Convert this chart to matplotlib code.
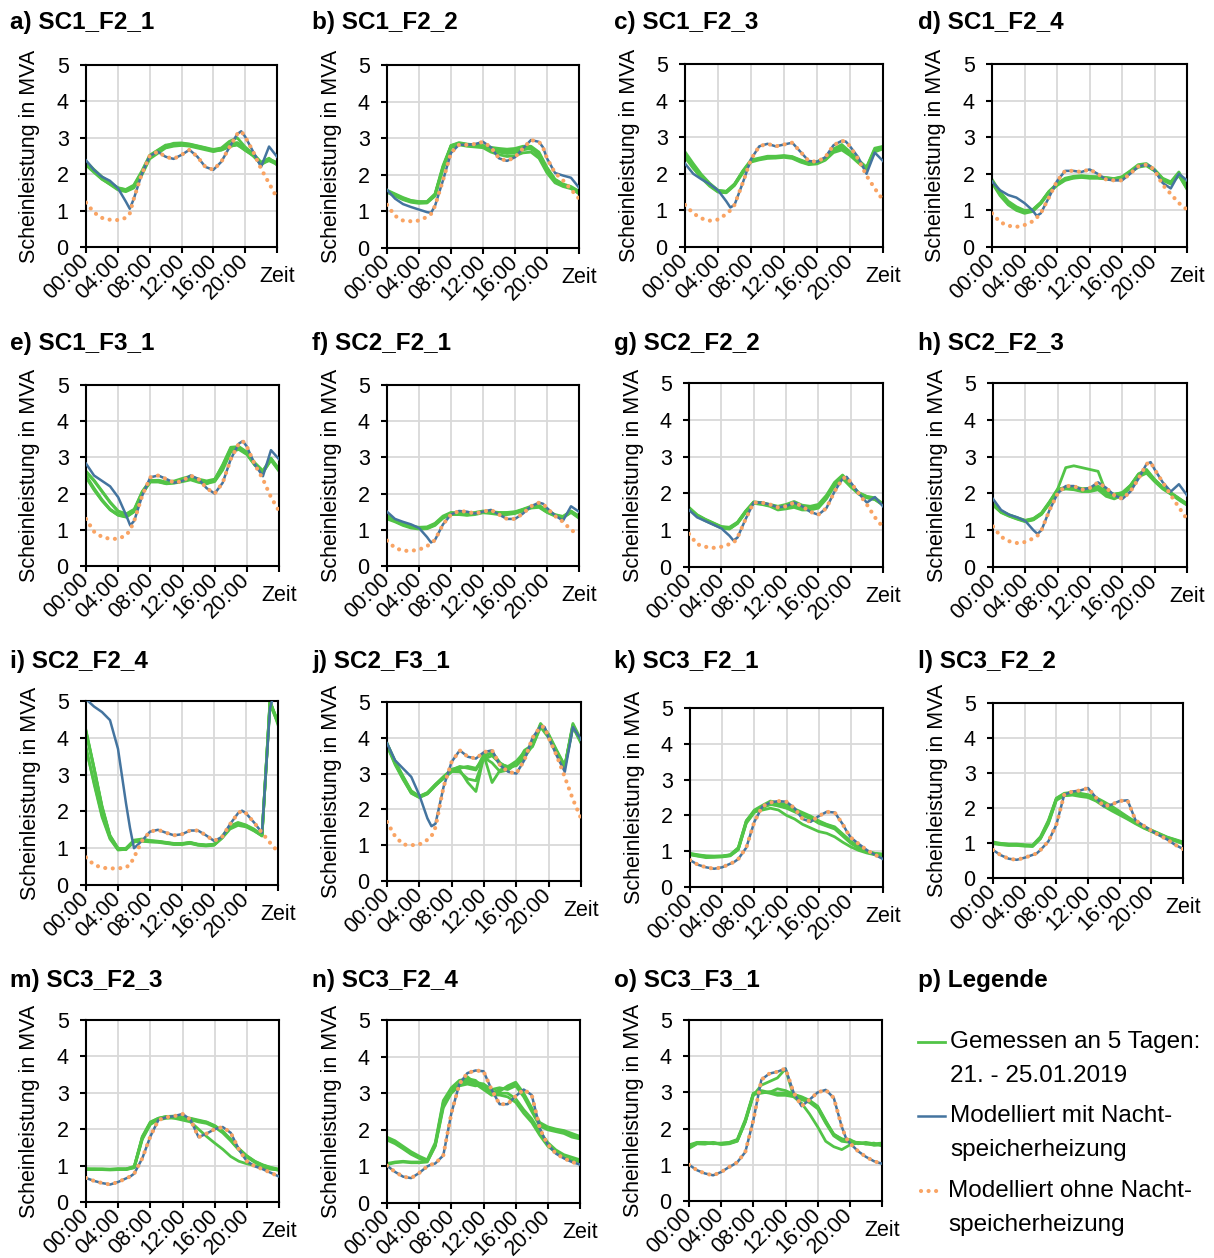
import matplotlib
matplotlib.use("Agg")
import matplotlib.pyplot as plt
from matplotlib.lines import Line2D
from matplotlib.transforms import offset_copy

plt.rcParams['font.family'] = ['Liberation Sans', 'DejaVu Sans']

# ---------------------------------------------------------------- data
HOURS = list(range(25))
MODEL_HOURS = [0, 1, 2, 3, 4, 5, 5.5, 6, 7, 8, 9, 10, 11, 12, 13, 14, 15, 16,
               17, 18, 19, 19.5, 20, 21, 22, 23, 24]
TICK_HOURS = [0, 4, 8, 12, 16, 20, 24]
TICK_LABELS = ["00:00", "04:00", "08:00", "12:00", "16:00", "20:00", ""]

PANEL_KEYS = list("abcdefghijklmno")
TITLES = ["a) SC1_F2_1", "b) SC1_F2_2", "c) SC1_F2_3", "d) SC1_F2_4",
          "e) SC1_F3_1", "f) SC2_F2_1", "g) SC2_F2_2", "h) SC2_F2_3",
          "i) SC2_F2_4", "j) SC2_F3_1", "k) SC3_F2_1", "l) SC3_F2_2",
          "m) SC3_F2_3", "n) SC3_F2_4", "o) SC3_F3_1"]

# measured apparent power, five days per feeder (MVA, hourly)
MEAS_A = [
    [2.30, 2.10, 1.90, 1.75, 1.60, 1.55, 1.65, 2.00, 2.45, 2.60, 2.75, 2.80, 2.82, 2.80, 2.75, 2.70, 2.65, 2.70, 2.80, 2.85, 2.70, 2.55, 2.30, 2.40, 2.30],
    [2.35, 2.13, 1.93, 1.78, 1.62, 1.57, 1.68, 2.05, 2.50, 2.65, 2.78, 2.85, 2.86, 2.83, 2.78, 2.73, 2.68, 2.72, 2.90, 3.00, 2.75, 2.55, 2.25, 2.42, 2.32],
    [2.27, 2.07, 1.87, 1.72, 1.57, 1.52, 1.62, 1.97, 2.42, 2.57, 2.72, 2.77, 2.79, 2.77, 2.72, 2.67, 2.62, 2.67, 2.77, 2.80, 2.67, 2.50, 2.28, 2.37, 2.27],
    [2.25, 2.05, 1.86, 1.73, 1.60, 1.55, 1.66, 2.02, 2.47, 2.62, 2.74, 2.79, 2.81, 2.79, 2.74, 2.70, 2.66, 2.70, 2.83, 2.87, 2.72, 2.57, 2.33, 2.44, 2.25],
    [2.32, 2.11, 1.91, 1.76, 1.63, 1.58, 1.70, 2.08, 2.52, 2.66, 2.80, 2.82, 2.84, 2.82, 2.77, 2.72, 2.64, 2.66, 2.75, 2.82, 2.65, 2.52, 2.30, 2.40, 2.30],
]
MEAS_B = [
    [1.55, 1.45, 1.35, 1.28, 1.25, 1.25, 1.45, 2.20, 2.78, 2.85, 2.82, 2.80, 2.78, 2.72, 2.68, 2.62, 2.62, 2.70, 2.72, 2.55, 2.15, 1.85, 1.72, 1.65, 1.52],
    [1.58, 1.48, 1.38, 1.30, 1.27, 1.27, 1.48, 2.25, 2.80, 2.88, 2.84, 2.82, 2.80, 2.75, 2.72, 2.70, 2.72, 2.78, 2.78, 2.62, 2.20, 1.88, 1.75, 1.68, 1.55],
    [1.52, 1.42, 1.32, 1.25, 1.22, 1.23, 1.42, 2.15, 2.74, 2.82, 2.78, 2.76, 2.74, 2.62, 2.55, 2.50, 2.52, 2.60, 2.62, 2.45, 2.05, 1.78, 1.68, 1.62, 1.50],
    [1.55, 1.44, 1.34, 1.27, 1.24, 1.26, 1.46, 2.22, 2.76, 2.84, 2.80, 2.79, 2.76, 2.68, 2.62, 2.58, 2.60, 2.68, 2.74, 2.50, 2.10, 1.82, 1.70, 1.64, 1.48],
    [1.56, 1.46, 1.36, 1.29, 1.26, 1.24, 1.44, 2.18, 2.80, 2.86, 2.83, 2.81, 2.79, 2.73, 2.70, 2.65, 2.66, 2.72, 2.70, 2.58, 2.18, 1.86, 1.73, 1.66, 1.53],
]
MEAS_C = [
    [2.50, 2.20, 1.92, 1.70, 1.52, 1.50, 1.70, 2.05, 2.35, 2.40, 2.45, 2.45, 2.48, 2.45, 2.35, 2.28, 2.30, 2.40, 2.62, 2.72, 2.55, 2.35, 2.15, 2.65, 2.72],
    [2.60, 2.28, 1.98, 1.74, 1.55, 1.52, 1.72, 2.08, 2.38, 2.43, 2.48, 2.48, 2.50, 2.47, 2.38, 2.30, 2.33, 2.43, 2.68, 2.80, 2.60, 2.38, 2.18, 2.70, 2.75],
    [2.45, 2.15, 1.88, 1.66, 1.50, 1.48, 1.68, 2.02, 2.32, 2.38, 2.42, 2.43, 2.45, 2.42, 2.32, 2.25, 2.27, 2.37, 2.58, 2.65, 2.50, 2.30, 2.12, 2.60, 2.68],
    [2.48, 2.18, 1.90, 1.68, 1.52, 1.50, 1.70, 2.05, 2.35, 2.40, 2.45, 2.46, 2.47, 2.44, 2.34, 2.27, 2.30, 2.40, 2.64, 2.75, 2.56, 2.36, 2.16, 2.66, 2.70],
    [2.52, 2.22, 1.94, 1.72, 1.54, 1.52, 1.72, 2.06, 2.36, 2.41, 2.46, 2.44, 2.47, 2.46, 2.36, 2.29, 2.31, 2.41, 2.60, 2.70, 2.53, 2.33, 2.14, 2.63, 2.74],
]
MEAS_D = [
    [1.80, 1.45, 1.20, 1.05, 0.95, 1.00, 1.20, 1.50, 1.70, 1.85, 1.90, 1.92, 1.90, 1.90, 1.88, 1.85, 1.90, 2.05, 2.20, 2.25, 2.10, 1.85, 1.75, 2.00, 1.60],
    [1.85, 1.50, 1.25, 1.10, 1.00, 1.02, 1.22, 1.52, 1.73, 1.88, 1.93, 1.95, 1.93, 1.92, 1.90, 1.87, 1.92, 2.08, 2.25, 2.28, 2.12, 1.88, 1.78, 2.05, 1.65],
    [1.75, 1.40, 1.15, 1.00, 0.92, 0.97, 1.18, 1.48, 1.68, 1.82, 1.88, 1.90, 1.88, 1.88, 1.86, 1.83, 1.88, 2.03, 2.18, 2.22, 2.08, 1.82, 1.72, 1.95, 1.58],
    [1.78, 1.48, 1.22, 1.08, 0.97, 0.98, 1.20, 1.50, 1.72, 1.86, 1.91, 1.93, 1.91, 1.91, 1.89, 1.86, 1.91, 2.06, 2.22, 2.26, 2.10, 1.86, 1.76, 2.02, 1.62],
    [1.82, 1.43, 1.18, 1.03, 0.94, 1.01, 1.21, 1.51, 1.70, 1.84, 1.89, 1.91, 1.89, 1.89, 1.87, 1.84, 1.89, 2.04, 2.19, 2.24, 2.09, 1.84, 1.74, 1.98, 1.60],
]
MEAS_E = [
    [2.60, 2.35, 2.05, 1.75, 1.50, 1.42, 1.55, 2.05, 2.35, 2.35, 2.30, 2.32, 2.38, 2.42, 2.35, 2.30, 2.35, 2.70, 3.20, 3.25, 3.10, 2.80, 2.60, 2.95, 2.65],
    [2.45, 2.10, 1.80, 1.55, 1.40, 1.35, 1.50, 2.00, 2.33, 2.33, 2.28, 2.30, 2.35, 2.40, 2.33, 2.28, 2.33, 2.65, 3.15, 3.22, 3.08, 2.78, 2.58, 2.92, 2.62],
    [2.50, 2.15, 1.83, 1.57, 1.42, 1.37, 1.52, 2.02, 2.36, 2.37, 2.32, 2.35, 2.42, 2.48, 2.40, 2.35, 2.40, 2.78, 3.25, 3.28, 3.12, 2.82, 2.62, 2.98, 2.68],
    [2.47, 2.12, 1.81, 1.56, 1.41, 1.36, 1.51, 2.01, 2.32, 2.32, 2.27, 2.29, 2.33, 2.38, 2.31, 2.27, 2.38, 2.80, 3.28, 3.30, 3.15, 2.85, 2.63, 2.97, 2.66],
    [2.62, 2.37, 2.07, 1.77, 1.52, 1.44, 1.57, 2.06, 2.37, 2.36, 2.31, 2.33, 2.39, 2.45, 2.37, 2.32, 2.36, 2.72, 3.22, 3.26, 3.10, 2.80, 2.60, 2.94, 2.64],
]
MEAS_F = [
    [1.35, 1.25, 1.15, 1.08, 1.05, 1.05, 1.15, 1.35, 1.45, 1.45, 1.42, 1.45, 1.50, 1.48, 1.45, 1.45, 1.48, 1.55, 1.62, 1.65, 1.50, 1.40, 1.35, 1.50, 1.35],
    [1.40, 1.28, 1.18, 1.10, 1.07, 1.08, 1.18, 1.38, 1.48, 1.47, 1.45, 1.48, 1.52, 1.50, 1.48, 1.48, 1.50, 1.57, 1.65, 1.68, 1.53, 1.42, 1.37, 1.52, 1.38],
    [1.30, 1.22, 1.12, 1.05, 1.02, 1.03, 1.12, 1.32, 1.42, 1.42, 1.40, 1.42, 1.47, 1.45, 1.42, 1.42, 1.45, 1.52, 1.60, 1.62, 1.48, 1.38, 1.33, 1.48, 1.32],
    [1.33, 1.24, 1.14, 1.07, 1.04, 1.06, 1.16, 1.36, 1.44, 1.46, 1.43, 1.46, 1.49, 1.47, 1.46, 1.44, 1.47, 1.56, 1.63, 1.66, 1.51, 1.41, 1.34, 1.49, 1.34],
    [1.37, 1.26, 1.16, 1.09, 1.06, 1.04, 1.14, 1.34, 1.46, 1.44, 1.41, 1.44, 1.51, 1.49, 1.44, 1.46, 1.49, 1.54, 1.61, 1.64, 1.49, 1.39, 1.36, 1.51, 1.36],
]
MEAS_G = [
    [1.60, 1.40, 1.28, 1.18, 1.08, 1.05, 1.20, 1.50, 1.75, 1.72, 1.68, 1.62, 1.65, 1.70, 1.62, 1.60, 1.65, 1.90, 2.25, 2.45, 2.20, 2.00, 1.90, 1.85, 1.70],
    [1.62, 1.42, 1.30, 1.20, 1.10, 1.08, 1.22, 1.52, 1.77, 1.75, 1.70, 1.65, 1.70, 1.78, 1.68, 1.65, 1.70, 1.95, 2.30, 2.50, 2.25, 2.02, 1.92, 1.88, 1.72],
    [1.58, 1.38, 1.26, 1.16, 1.06, 1.03, 1.18, 1.48, 1.73, 1.70, 1.65, 1.55, 1.58, 1.62, 1.55, 1.55, 1.60, 1.85, 2.20, 2.40, 2.18, 1.98, 1.88, 1.83, 1.68],
    [1.60, 1.41, 1.29, 1.19, 1.09, 1.06, 1.21, 1.51, 1.76, 1.73, 1.69, 1.63, 1.67, 1.73, 1.65, 1.62, 1.67, 1.92, 2.27, 2.47, 2.22, 2.01, 1.91, 1.86, 1.71],
    [1.61, 1.39, 1.27, 1.17, 1.07, 1.04, 1.19, 1.49, 1.74, 1.71, 1.67, 1.60, 1.62, 1.66, 1.60, 1.58, 1.63, 1.88, 2.23, 2.43, 2.19, 1.99, 1.89, 1.84, 1.69],
]
MEAS_H = [
    [1.70, 1.50, 1.40, 1.32, 1.25, 1.30, 1.45, 1.75, 2.10, 2.15, 2.15, 2.10, 2.10, 2.15, 2.00, 1.95, 2.00, 2.20, 2.50, 2.60, 2.35, 2.15, 2.00, 1.85, 1.70],
    [1.72, 1.52, 1.42, 1.34, 1.27, 1.32, 1.47, 1.78, 2.12, 2.70, 2.75, 2.70, 2.65, 2.60, 2.02, 1.98, 2.02, 2.22, 2.52, 2.62, 2.37, 2.17, 2.02, 1.87, 1.72],
    [1.68, 1.48, 1.38, 1.30, 1.23, 1.28, 1.43, 1.73, 2.08, 2.12, 2.10, 2.05, 2.05, 2.10, 1.92, 1.85, 1.95, 2.15, 2.45, 2.55, 2.32, 2.12, 1.98, 1.82, 1.68],
    [1.71, 1.51, 1.41, 1.33, 1.26, 1.31, 1.46, 1.76, 2.11, 2.17, 2.18, 2.13, 2.14, 2.20, 2.05, 1.97, 2.02, 2.21, 2.53, 2.65, 2.38, 2.16, 2.01, 1.86, 1.71],
    [1.69, 1.49, 1.39, 1.31, 1.24, 1.29, 1.44, 1.74, 2.09, 2.14, 2.13, 2.08, 2.08, 2.12, 1.97, 1.93, 1.98, 2.18, 2.48, 2.58, 2.34, 2.14, 1.99, 1.84, 1.69],
]
MEAS_I = [
    [4.20, 3.20, 2.15, 1.35, 1.00, 0.98, 1.20, 1.22, 1.20, 1.18, 1.15, 1.12, 1.12, 1.15, 1.10, 1.08, 1.10, 1.30, 1.55, 1.65, 1.60, 1.50, 1.35, 5.00, 4.40],
    [4.15, 3.15, 2.10, 1.32, 0.98, 0.96, 1.18, 1.20, 1.18, 1.17, 1.14, 1.11, 1.11, 1.14, 1.09, 1.07, 1.09, 1.28, 1.58, 1.68, 1.62, 1.48, 1.33, 4.95, 4.45],
    [3.70, 2.80, 1.90, 1.28, 0.97, 1.00, 1.22, 1.25, 1.21, 1.19, 1.16, 1.13, 1.13, 1.16, 1.11, 1.09, 1.11, 1.32, 1.60, 1.70, 1.63, 1.52, 1.36, 4.90, 4.40],
    [3.75, 2.75, 1.85, 1.25, 0.95, 0.97, 1.17, 1.19, 1.17, 1.16, 1.13, 1.10, 1.10, 1.13, 1.08, 1.06, 1.08, 1.27, 1.52, 1.62, 1.58, 1.47, 1.34, 5.00, 4.35],
    [4.18, 3.18, 2.12, 1.33, 0.99, 0.99, 1.19, 1.21, 1.19, 1.18, 1.15, 1.12, 1.12, 1.15, 1.10, 1.08, 1.10, 1.29, 1.56, 1.66, 1.61, 1.49, 1.35, 4.98, 4.42],
]
MEAS_J = [
    [3.85, 3.33, 2.90, 2.50, 2.35, 2.45, 2.68, 2.86, 3.05, 3.15, 3.20, 3.15, 3.45, 3.60, 3.30, 3.15, 3.25, 3.65, 3.80, 4.35, 4.05, 3.60, 3.20, 4.35, 3.90],
    [3.80, 3.28, 2.85, 2.45, 2.33, 2.43, 2.66, 2.88, 3.10, 3.20, 3.15, 3.10, 3.55, 3.55, 3.25, 3.20, 3.30, 3.55, 3.85, 4.40, 4.10, 3.65, 3.22, 4.40, 3.95],
    [3.82, 3.30, 2.88, 2.48, 2.36, 2.46, 2.70, 2.90, 3.08, 3.10, 2.75, 2.50, 3.50, 2.75, 3.10, 3.20, 3.35, 3.60, 3.75, 4.30, 4.00, 3.55, 3.18, 4.30, 3.85],
    [3.78, 3.25, 2.83, 2.46, 2.34, 2.44, 2.67, 2.88, 3.06, 3.05, 2.85, 2.80, 3.45, 3.30, 3.05, 3.10, 3.28, 3.50, 3.80, 4.38, 4.08, 3.58, 3.20, 4.32, 3.88],
    [3.84, 3.35, 2.92, 2.52, 2.37, 2.47, 2.70, 2.92, 3.12, 3.18, 3.18, 3.12, 3.40, 3.50, 3.28, 3.18, 3.22, 3.45, 3.78, 4.32, 4.05, 3.62, 3.21, 4.36, 3.92],
]
MEAS_K = [
    [0.92, 0.88, 0.85, 0.85, 0.85, 0.88, 1.05, 1.80, 2.10, 2.20, 2.35, 2.30, 2.25, 2.15, 2.05, 1.95, 1.80, 1.72, 1.65, 1.45, 1.25, 1.10, 0.98, 0.92, 0.90],
    [0.94, 0.90, 0.87, 0.86, 0.87, 0.90, 1.08, 1.85, 2.15, 2.28, 2.40, 2.35, 2.30, 2.18, 2.08, 1.98, 1.85, 1.75, 1.68, 1.48, 1.28, 1.12, 1.00, 0.94, 0.92],
    [0.90, 0.86, 0.82, 0.83, 0.85, 0.90, 1.10, 1.85, 2.10, 2.15, 2.20, 2.15, 2.00, 1.90, 1.75, 1.65, 1.55, 1.50, 1.40, 1.25, 1.12, 1.02, 0.95, 0.90, 0.88],
    [0.91, 0.87, 0.84, 0.84, 0.84, 0.87, 1.04, 1.78, 2.08, 2.22, 2.30, 2.28, 2.22, 2.12, 2.02, 1.92, 1.78, 1.70, 1.62, 1.42, 1.22, 1.08, 0.97, 0.91, 0.89],
    [0.93, 0.89, 0.86, 0.86, 0.86, 0.89, 1.06, 1.82, 2.12, 2.25, 2.32, 2.26, 2.20, 2.10, 2.00, 1.90, 1.82, 1.74, 1.66, 1.46, 1.26, 1.11, 0.99, 0.93, 0.91],
]
MEAS_L = [
    [1.00, 0.97, 0.95, 0.95, 0.93, 0.92, 1.15, 1.60, 2.25, 2.38, 2.40, 2.38, 2.35, 2.25, 2.12, 2.00, 1.85, 1.72, 1.58, 1.45, 1.35, 1.25, 1.15, 1.08, 1.00],
    [1.03, 0.99, 0.97, 0.97, 0.95, 0.94, 1.18, 1.65, 2.28, 2.42, 2.45, 2.42, 2.38, 2.30, 2.18, 2.05, 1.90, 1.75, 1.60, 1.47, 1.37, 1.27, 1.17, 1.10, 1.03],
    [0.98, 0.95, 0.93, 0.93, 0.91, 0.90, 1.12, 1.55, 2.22, 2.35, 2.37, 2.33, 2.30, 2.20, 2.05, 1.92, 1.80, 1.68, 1.55, 1.43, 1.33, 1.23, 1.13, 1.06, 0.98],
    [1.01, 0.96, 0.94, 0.96, 0.92, 0.93, 1.16, 1.62, 2.27, 2.40, 2.42, 2.36, 2.32, 2.22, 2.10, 2.02, 1.88, 1.70, 1.57, 1.46, 1.36, 1.26, 1.16, 1.09, 1.01],
    [0.99, 0.98, 0.96, 0.94, 0.94, 0.91, 1.14, 1.58, 2.24, 2.36, 2.38, 2.40, 2.36, 2.27, 2.15, 1.97, 1.83, 1.73, 1.59, 1.44, 1.34, 1.24, 1.14, 1.07, 0.99],
]
MEAS_M = [
    [0.90, 0.90, 0.90, 0.89, 0.90, 0.90, 0.95, 1.75, 2.15, 2.28, 2.32, 2.33, 2.30, 2.28, 2.22, 2.18, 2.08, 1.92, 1.70, 1.45, 1.25, 1.10, 1.00, 0.93, 0.88],
    [0.91, 0.91, 0.91, 0.90, 0.91, 0.91, 0.97, 1.78, 2.18, 2.30, 2.35, 2.36, 2.33, 2.30, 2.25, 2.20, 2.10, 1.95, 1.72, 1.47, 1.27, 1.12, 1.02, 0.95, 0.90],
    [0.90, 0.89, 0.89, 0.89, 0.90, 0.91, 0.98, 1.80, 2.20, 2.30, 2.35, 2.30, 2.25, 2.20, 2.00, 1.80, 1.62, 1.45, 1.25, 1.12, 1.05, 1.00, 0.95, 0.90, 0.88],
    [0.89, 0.90, 0.89, 0.88, 0.89, 0.89, 0.94, 1.72, 2.13, 2.26, 2.30, 2.31, 2.28, 2.26, 2.20, 2.16, 2.06, 1.90, 1.68, 1.43, 1.23, 1.09, 0.99, 0.92, 0.87],
    [0.91, 0.90, 0.90, 0.90, 0.91, 0.90, 0.96, 1.76, 2.16, 2.29, 2.33, 2.34, 2.31, 2.29, 2.23, 2.19, 2.09, 1.93, 1.71, 1.46, 1.26, 1.11, 1.01, 0.94, 0.89],
]
MEAS_N = [
    [1.75, 1.65, 1.50, 1.35, 1.25, 1.15, 1.60, 2.75, 3.10, 3.25, 3.30, 3.28, 3.20, 3.00, 3.10, 3.15, 3.25, 2.95, 2.55, 2.15, 2.05, 2.00, 1.95, 1.85, 1.78],
    [1.80, 1.70, 1.55, 1.40, 1.28, 1.18, 1.65, 2.80, 3.15, 3.35, 3.40, 3.35, 3.15, 2.95, 3.05, 3.20, 3.30, 3.00, 2.60, 2.20, 2.08, 2.02, 1.98, 1.90, 1.82],
    [1.72, 1.62, 1.48, 1.33, 1.22, 1.13, 1.58, 2.70, 3.05, 3.20, 3.25, 3.20, 3.25, 3.10, 3.15, 3.10, 3.20, 2.90, 2.50, 2.10, 2.00, 1.95, 1.90, 1.80, 1.75],
    [1.05, 1.10, 1.12, 1.10, 1.10, 1.12, 1.55, 2.60, 3.00, 3.20, 3.35, 3.30, 3.25, 3.05, 3.00, 3.00, 2.85, 2.55, 2.30, 1.95, 1.65, 1.45, 1.32, 1.25, 1.18],
    [1.08, 1.12, 1.14, 1.12, 1.12, 1.15, 1.58, 2.65, 3.02, 3.22, 3.45, 3.25, 3.10, 2.95, 2.95, 2.90, 2.75, 2.45, 2.20, 1.85, 1.55, 1.38, 1.25, 1.18, 1.12],
]
MEAS_O = [
    [1.50, 1.60, 1.60, 1.60, 1.58, 1.60, 1.68, 2.20, 2.95, 3.00, 3.00, 2.95, 2.95, 2.90, 2.85, 2.75, 2.60, 2.20, 1.85, 1.70, 1.65, 1.60, 1.60, 1.55, 1.55],
    [1.55, 1.62, 1.62, 1.58, 1.60, 1.62, 1.70, 2.25, 2.98, 3.05, 3.00, 3.10, 3.05, 2.95, 2.88, 2.78, 2.62, 2.22, 1.82, 1.68, 1.70, 1.58, 1.62, 1.58, 1.60],
    [1.45, 1.58, 1.57, 1.62, 1.56, 1.58, 1.65, 2.18, 2.92, 3.20, 3.30, 3.40, 3.65, 2.90, 2.80, 2.72, 2.55, 2.15, 1.80, 1.65, 1.62, 1.62, 1.57, 1.60, 1.52],
    [1.52, 1.61, 1.59, 1.61, 1.59, 1.61, 1.67, 2.22, 2.96, 3.02, 2.98, 2.92, 2.92, 2.88, 2.70, 2.40, 2.05, 1.65, 1.50, 1.42, 1.55, 1.60, 1.58, 1.56, 1.57],
    [1.48, 1.59, 1.61, 1.59, 1.57, 1.59, 1.66, 2.19, 2.94, 2.98, 3.02, 2.98, 2.98, 2.92, 2.86, 2.76, 2.58, 2.18, 1.84, 1.72, 1.66, 1.61, 1.59, 1.54, 1.56],
]

# modelled load with night storage heating (MVA, on MODEL_HOURS)
WITH_NSH_A = [2.38, 2.12, 1.93, 1.82, 1.62, 1.25, 1.05, 1.32, 2.00, 2.50, 2.62, 2.48, 2.42, 2.53, 2.67, 2.48, 2.20, 2.12, 2.34, 2.73, 3.10, 3.18, 3.03, 2.62, 2.20, 2.76, 2.48]
WITH_NSH_B = [1.59, 1.35, 1.20, 1.12, 1.05, 0.98, 0.96, 1.15, 1.85, 2.60, 2.82, 2.82, 2.84, 2.90, 2.75, 2.45, 2.38, 2.48, 2.72, 2.95, 2.90, 2.75, 2.45, 2.05, 1.98, 1.92, 1.65]
WITH_NSH_C = [2.28, 2.00, 1.85, 1.72, 1.55, 1.25, 1.08, 1.15, 1.75, 2.40, 2.75, 2.82, 2.75, 2.80, 2.85, 2.60, 2.35, 2.33, 2.45, 2.78, 2.90, 2.88, 2.75, 2.45, 2.00, 2.58, 2.35]
WITH_NSH_D = [1.79, 1.55, 1.42, 1.35, 1.20, 1.00, 0.85, 0.92, 1.35, 1.80, 2.08, 2.08, 2.05, 2.12, 2.00, 1.85, 1.82, 1.82, 2.00, 2.20, 2.25, 2.20, 2.10, 1.75, 1.60, 2.00, 1.82]
WITH_NSH_E = [2.83, 2.50, 2.35, 2.20, 1.90, 1.40, 1.12, 1.25, 1.95, 2.45, 2.50, 2.40, 2.30, 2.35, 2.50, 2.40, 2.15, 2.00, 2.30, 2.95, 3.38, 3.45, 3.30, 2.80, 2.48, 3.20, 2.95]
WITH_NSH_F = [1.50, 1.30, 1.22, 1.15, 1.05, 0.80, 0.65, 0.72, 1.15, 1.42, 1.52, 1.50, 1.45, 1.50, 1.55, 1.42, 1.30, 1.30, 1.45, 1.65, 1.75, 1.72, 1.60, 1.40, 1.25, 1.65, 1.50]
WITH_NSH_G = [1.55, 1.35, 1.25, 1.15, 1.05, 0.85, 0.72, 0.80, 1.30, 1.75, 1.75, 1.70, 1.62, 1.65, 1.75, 1.65, 1.50, 1.42, 1.60, 2.05, 2.40, 2.45, 2.30, 2.00, 1.75, 1.90, 1.65]
WITH_NSH_H = [1.85, 1.55, 1.42, 1.35, 1.25, 1.00, 0.90, 1.00, 1.55, 2.00, 2.20, 2.20, 2.10, 2.15, 2.30, 2.15, 1.95, 1.85, 2.05, 2.40, 2.80, 2.85, 2.65, 2.30, 2.05, 2.25, 1.95]
WITH_NSH_I = [5.05, 4.85, 4.70, 4.48, 3.70, 2.22, 1.55, 1.00, 1.20, 1.45, 1.50, 1.42, 1.35, 1.38, 1.48, 1.48, 1.35, 1.20, 1.30, 1.65, 1.95, 2.02, 1.95, 1.70, 1.42, 4.80, 5.60]
WITH_NSH_J = [3.85, 3.37, 3.14, 2.91, 2.40, 1.75, 1.53, 1.60, 2.63, 3.33, 3.65, 3.47, 3.42, 3.60, 3.65, 3.23, 3.05, 3.00, 3.38, 4.00, 4.32, 4.30, 4.00, 3.50, 3.05, 4.30, 3.95]
WITH_NSH_K = [0.75, 0.62, 0.55, 0.51, 0.55, 0.65, 0.70, 0.78, 1.10, 1.82, 2.25, 2.36, 2.40, 2.38, 2.20, 1.90, 1.82, 1.98, 2.10, 2.08, 1.75, 1.55, 1.38, 1.20, 1.03, 0.90, 0.78]
WITH_NSH_L = [0.80, 0.65, 0.55, 0.52, 0.58, 0.66, 0.70, 0.80, 1.05, 1.52, 2.38, 2.47, 2.50, 2.57, 2.30, 2.05, 2.10, 2.20, 2.22, 1.65, 1.50, 1.43, 1.35, 1.22, 1.10, 0.95, 0.83]
WITH_NSH_M = [0.66, 0.58, 0.52, 0.48, 0.55, 0.65, 0.70, 0.78, 1.20, 1.80, 2.25, 2.33, 2.36, 2.42, 2.26, 1.78, 1.88, 2.00, 2.06, 1.90, 1.45, 1.28, 1.12, 0.98, 0.90, 0.80, 0.70]
WITH_NSH_N = [1.02, 0.85, 0.72, 0.68, 0.82, 1.00, 1.05, 1.08, 1.30, 2.45, 3.25, 3.55, 3.62, 3.60, 3.10, 2.70, 2.70, 2.92, 3.10, 2.95, 2.05, 1.80, 1.60, 1.35, 1.22, 1.12, 1.05]
WITH_NSH_O = [1.00, 0.85, 0.76, 0.71, 0.80, 0.94, 1.00, 1.07, 1.35, 2.23, 3.35, 3.52, 3.57, 3.66, 3.00, 2.62, 2.80, 3.00, 3.07, 2.85, 2.05, 1.75, 1.60, 1.38, 1.22, 1.10, 1.03]

# modelled load without night storage heating (MVA, on MODEL_HOURS)
NO_NSH_A = [1.22, 0.95, 0.80, 0.75, 0.74, 0.80, 0.92, 1.32, 2.00, 2.50, 2.62, 2.48, 2.42, 2.53, 2.67, 2.48, 2.20, 2.12, 2.34, 2.73, 3.10, 3.18, 3.03, 2.62, 2.15, 1.75, 1.35]
NO_NSH_B = [1.18, 0.88, 0.75, 0.73, 0.75, 0.85, 0.93, 1.15, 1.85, 2.60, 2.82, 2.82, 2.84, 2.90, 2.75, 2.45, 2.38, 2.48, 2.72, 2.95, 2.90, 2.75, 2.45, 2.05, 1.85, 1.60, 1.35]
NO_NSH_C = [1.15, 0.92, 0.78, 0.72, 0.75, 0.90, 1.00, 1.15, 1.75, 2.40, 2.75, 2.82, 2.75, 2.80, 2.85, 2.60, 2.35, 2.33, 2.45, 2.78, 2.90, 2.88, 2.75, 2.40, 1.95, 1.60, 1.28]
NO_NSH_D = [0.92, 0.68, 0.58, 0.55, 0.60, 0.70, 0.80, 0.92, 1.35, 1.80, 2.08, 2.08, 2.05, 2.12, 2.00, 1.85, 1.82, 1.82, 2.00, 2.20, 2.25, 2.20, 2.10, 1.70, 1.45, 1.20, 1.02]
NO_NSH_E = [1.30, 0.95, 0.80, 0.75, 0.75, 0.85, 1.00, 1.25, 1.95, 2.45, 2.50, 2.40, 2.30, 2.35, 2.50, 2.40, 2.15, 2.00, 2.30, 2.95, 3.38, 3.45, 3.30, 2.80, 2.40, 1.90, 1.52]
NO_NSH_F = [0.70, 0.50, 0.42, 0.42, 0.45, 0.55, 0.62, 0.72, 1.15, 1.42, 1.52, 1.50, 1.45, 1.50, 1.55, 1.42, 1.30, 1.30, 1.45, 1.65, 1.75, 1.72, 1.60, 1.38, 1.22, 1.00, 0.85]
NO_NSH_G = [0.90, 0.62, 0.55, 0.52, 0.55, 0.62, 0.65, 0.80, 1.30, 1.75, 1.75, 1.70, 1.62, 1.65, 1.75, 1.65, 1.50, 1.42, 1.60, 2.05, 2.40, 2.45, 2.30, 2.00, 1.70, 1.35, 1.08]
NO_NSH_H = [1.10, 0.82, 0.70, 0.65, 0.68, 0.78, 0.85, 1.00, 1.55, 2.00, 2.20, 2.20, 2.10, 2.15, 2.30, 2.15, 1.95, 1.85, 2.05, 2.40, 2.80, 2.85, 2.65, 2.30, 1.95, 1.62, 1.30]
NO_NSH_I = [0.75, 0.55, 0.47, 0.45, 0.45, 0.48, 0.55, 0.75, 1.20, 1.45, 1.50, 1.42, 1.35, 1.38, 1.48, 1.48, 1.35, 1.20, 1.30, 1.65, 1.95, 2.02, 1.95, 1.70, 1.42, 1.15, 0.90]
NO_NSH_J = [1.65, 1.25, 1.02, 1.00, 1.02, 1.15, 1.25, 1.50, 2.63, 3.33, 3.65, 3.47, 3.42, 3.60, 3.65, 3.23, 3.05, 3.00, 3.38, 4.00, 4.32, 4.30, 4.00, 3.50, 2.90, 2.28, 1.75]
NO_NSH_K = [0.75, 0.62, 0.55, 0.51, 0.55, 0.65, 0.70, 0.78, 1.10, 1.82, 2.25, 2.36, 2.40, 2.38, 2.20, 1.90, 1.82, 1.98, 2.10, 2.08, 1.75, 1.55, 1.38, 1.20, 1.03, 0.90, 0.78]
NO_NSH_L = [0.80, 0.65, 0.55, 0.52, 0.58, 0.66, 0.70, 0.80, 1.05, 1.52, 2.38, 2.47, 2.50, 2.57, 2.30, 2.05, 2.10, 2.20, 2.22, 1.65, 1.50, 1.43, 1.35, 1.22, 1.10, 0.95, 0.83]
NO_NSH_M = [0.66, 0.58, 0.52, 0.48, 0.55, 0.65, 0.70, 0.78, 1.20, 1.80, 2.25, 2.33, 2.36, 2.42, 2.26, 1.78, 1.88, 2.00, 2.06, 1.90, 1.45, 1.28, 1.12, 0.98, 0.90, 0.80, 0.70]
NO_NSH_N = [1.02, 0.85, 0.72, 0.68, 0.82, 1.00, 1.05, 1.08, 1.30, 2.45, 3.25, 3.55, 3.62, 3.60, 3.10, 2.70, 2.70, 2.92, 3.10, 2.95, 2.05, 1.80, 1.60, 1.35, 1.22, 1.12, 1.05]
NO_NSH_O = [1.00, 0.85, 0.76, 0.71, 0.80, 0.94, 1.00, 1.07, 1.35, 2.23, 3.35, 3.52, 3.57, 3.66, 3.00, 2.62, 2.80, 3.00, 3.07, 2.85, 2.05, 1.75, 1.60, 1.38, 1.22, 1.10, 1.03]

MEASURED = [MEAS_A, MEAS_B, MEAS_C, MEAS_D, MEAS_E, MEAS_F, MEAS_G, MEAS_H,
            MEAS_I, MEAS_J, MEAS_K, MEAS_L, MEAS_M, MEAS_N, MEAS_O]
WITH_NSH = [WITH_NSH_A, WITH_NSH_B, WITH_NSH_C, WITH_NSH_D, WITH_NSH_E,
            WITH_NSH_F, WITH_NSH_G, WITH_NSH_H, WITH_NSH_I, WITH_NSH_J,
            WITH_NSH_K, WITH_NSH_L, WITH_NSH_M, WITH_NSH_N, WITH_NSH_O]
NO_NSH = [NO_NSH_A, NO_NSH_B, NO_NSH_C, NO_NSH_D, NO_NSH_E, NO_NSH_F,
          NO_NSH_G, NO_NSH_H, NO_NSH_I, NO_NSH_J, NO_NSH_K, NO_NSH_L,
          NO_NSH_M, NO_NSH_N, NO_NSH_O]

LEGEND_LABELS = [("Gemessen an 5 Tagen:", "21. - 25.01.2019"),
                 ("Modelliert mit Nacht-", "speicherheizung"),
                 ("Modelliert ohne Nacht-", "speicherheizung")]

# ---------------------------------------------------------------- layout
W, H = 1214, 1258
# axes boxes in pixels: left, top, right, bottom
BOXES = [(86, 65, 277, 247), (387, 65, 579, 248), (685, 64, 883, 247), (992, 64, 1187, 247),
         (86, 385, 279, 566), (387, 385, 579, 566), (689, 383, 883, 567), (993, 383, 1187, 567),
         (86, 701, 278, 885), (387, 702, 581, 881), (690, 708, 883, 887), (993, 703, 1183, 878),
         (86, 1020, 279, 1202), (387, 1020, 580, 1203), (689, 1020, 882, 1201)]
TITLE_X = [10, 312, 614, 918]
TITLE_Y = [22, 343, 661, 980]

C_MEAS = '#52C447'
C_WITH = '#44749F'
C_NO = '#F9A464'
C_GRID = '#D9D9D9'
FS = 15.5

fig = plt.figure(figsize=(W / 100, H / 100), dpi=100)


def fx(px):
    return px / W


def fy(py):
    return 1 - py / H


for idx, key in enumerate(PANEL_KEYS):
    l, t, r, b = BOXES[idx]
    ax = fig.add_axes([fx(l), fy(b), (r - l) / W, (b - t) / H])
    for day in MEASURED[idx]:
        ax.plot(HOURS, day, color=C_MEAS, lw=2.0, zorder=2)
    ax.plot(MODEL_HOURS, WITH_NSH[idx], color=C_WITH, lw=1.8, zorder=3)
    ax.plot(MODEL_HOURS, NO_NSH[idx], color=C_NO, lw=3.0,
            linestyle=(0, (0.01, 1.8)), dash_capstyle='round', zorder=4)

    ax.set_xlim(0, 24)
    ax.set_ylim(0, 5)
    ax.set_xticks(TICK_HOURS)
    ax.set_xticklabels(TICK_LABELS)
    ax.set_yticks(range(6))
    ax.grid(True, color=C_GRID, lw=1.3)
    ax.set_axisbelow(True)
    for sp in ax.spines.values():
        sp.set_color('black')
        sp.set_linewidth(1.5)
    ax.tick_params(direction='out', length=4.5, width=1.5, labelsize=FS,
                   color='black')
    ax.tick_params(axis='y', pad=8)
    ax.tick_params(axis='x', pad=3)
    for lab in ax.get_xticklabels():
        lab.set_rotation(45)
        lab.set_ha('right')
        lab.set_va('center')
        lab.set_rotation_mode('anchor')
    zeit_tr = offset_copy(ax.get_xaxis_transform(), fig=fig, x=0, y=-19,
                          units='dots')
    ax.text(24, 0, 'Zeit', transform=zeit_tr, ha='center', va='top',
            fontsize=FS)
    ax.set_ylabel('Scheinleistung in MVA', fontsize=FS, va='center')
    ax.yaxis.set_label_coords(-56 / (r - l), 0.5)

    fig.text(fx(TITLE_X[idx % 4]), fy(TITLE_Y[idx // 4]), TITLES[idx],
             fontsize=17.5, fontweight='bold', ha='left', va='center')

# ---------------------------------------------------------------- legend
fig.text(fx(918), fy(980), "p) Legende", fontsize=17.5, fontweight='bold',
         ha='left', va='center')
KEY_Y = [1042, 1116, 1191]
TEXT_X = [950, 950, 948]
key_styles = [dict(color=C_MEAS, lw=2.0),
              dict(color=C_WITH, lw=1.8),
              dict(color=C_NO, lw=3.0, linestyle=(0, (0.01, 1.8)),
                   dash_capstyle='round')]
key_x = [(918, 945), (918, 945), (921, 941)]
for (line1, line2), ky, tx, st, (x0, x1) in zip(LEGEND_LABELS, KEY_Y, TEXT_X,
                                                  key_styles, key_x):
    fig.add_artist(Line2D([fx(x0), fx(x1)], [fy(ky), fy(ky)],
                          transform=fig.transFigure, **st))
    fig.text(fx(tx), fy(ky), line1, fontsize=17.5, ha='left', va='center')
    fig.text(fx(tx), fy(ky + 34), line2, fontsize=17.5, ha='left',
             va='center')

fig.savefig('out.png', dpi=100)
